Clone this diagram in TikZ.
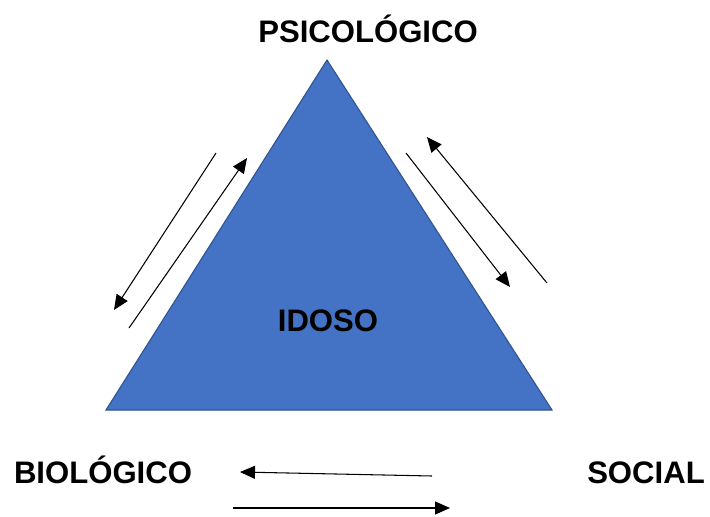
\documentclass[tikz,border=0pt]{standalone}
\usepackage{fontspec}
\setmainfont{Liberation Sans}
\usepackage{xcolor}
\usetikzlibrary{arrows.meta,positioning,calc}

\definecolor{idosoblue}{HTML}{4472C4}
\definecolor{idosoedge}{HTML}{2F528F}

\tikzset{
    label/.style={font=\fontsize{17.7}{21}\selectfont\bfseries, anchor=base, inner sep=0pt},
    link/.style={-{Triangle[length=0.3cm, width=0.26cm]}, line width=0.6pt}
}

\begin{document}
\begin{tikzpicture}
    \useasboundingbox (0,0) rectangle (14.2,10.32);
    % Triangle
    \coordinate (top) at (6.54, 9.12);
    \coordinate (left) at (2.12, 2.12);
    \coordinate (right) at (11.04, 2.12);
    \draw [fill=idosoblue, draw=idosoedge, line width=0.6pt] (top) -- (left) -- (right) -- cycle;
    % Labels
    \node [label] (psico) at (7.36, 9.48) {PSICOLÓGICO};
    \node [label] (idoso) at (6.56, 3.70) {IDOSO};
    \node [label] (bio) at (2.06, 0.66) {BIOLÓGICO};
    \node [label] (social) at (12.92, 0.66) {SOCIAL};
    % Arrow ends
    \coordinate (l1s) at (4.32, 7.26);
    \coordinate (l1e) at (2.28, 4.12);
    \coordinate (l2s) at (2.58, 3.76);
    \coordinate (l2e) at (4.94, 7.16);
    \coordinate (r1s) at (10.94, 4.66);
    \coordinate (r1e) at (8.54, 7.58);
    \coordinate (r2s) at (8.12, 7.26);
    \coordinate (r2e) at (10.20, 4.58);
    \coordinate (b1s) at (8.64, 0.80);
    \coordinate (b1e) at (4.80, 0.88);
    \coordinate (b2s) at (4.66, 0.16);
    \coordinate (b2e) at (9.00, 0.16);
    % Arrows
    \draw [link] (l1s) -- (l1e);
    \draw [link] (l2s) -- (l2e);
    \draw [link] (r1s) -- (r1e);
    \draw [link] (r2s) -- (r2e);
    \draw [link] (b1s) -- (b1e);
    \draw [link] (b2s) -- (b2e);
\end{tikzpicture}
\end{document}
